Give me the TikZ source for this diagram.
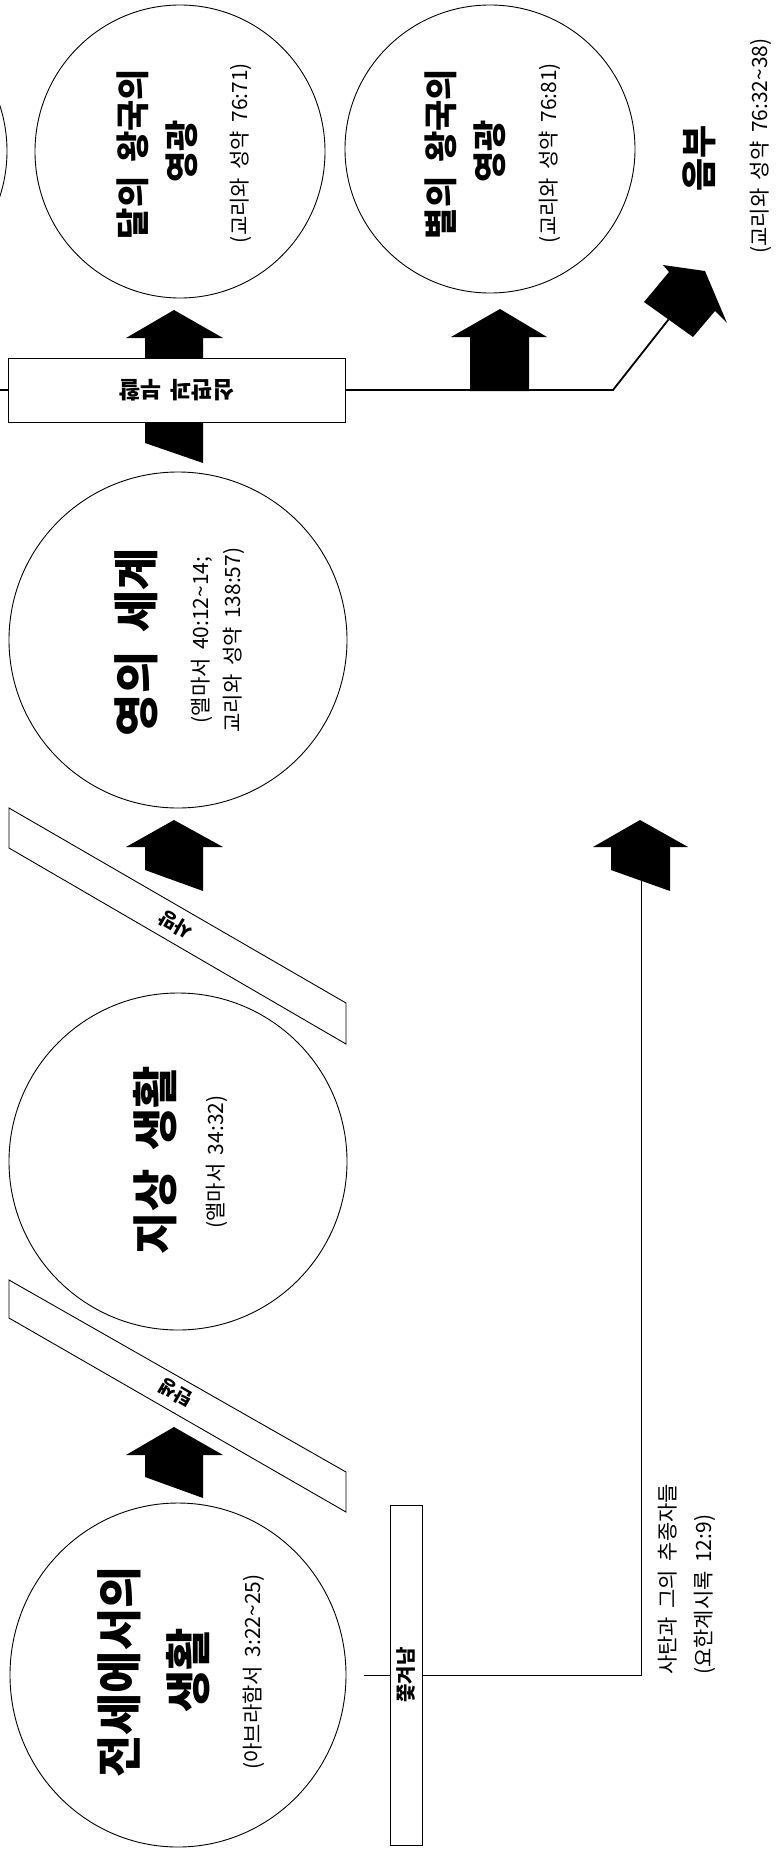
\documentclass[tikz,border=0pt]{standalone}
\usepackage{fontspec}
\setmainfont[WordSpace=1.8]{Noto Sans CJK KR}
\usetikzlibrary{shapes.geometric}
\begin{document}
\begin{tikzpicture}[x=1pt,y=-1pt,
  circ/.style={draw, ellipse, line width=0.9pt, fill=white, inner sep=0pt},
  bigtitle/.style={rotate=90, inner sep=0pt, font=\fontsize{46}{50}\selectfont\bfseries},
  ktitle/.style={rotate=90, inner sep=0pt, font=\fontsize{34}{38}\selectfont\bfseries},
  cite/.style={rotate=90, inner sep=0pt, font=\fontsize{21}{24}\selectfont},
  band/.style={draw, line width=0.9pt, fill=white},
  bandtext/.style={rotate=150, inner sep=0pt, font=\fontsize{19}{21}\selectfont\bfseries},
  boxst/.style={draw, fill=white, line width=1pt, inner sep=0pt},
  blockarrow/.style={fill=black, draw=none},
  judgeline/.style={line width=1.8pt},
  satanline/.style={line width=0.9pt}
]
\useasboundingbox (0,0) rectangle (776,1849);
\clip (0,0) rectangle (776,1849);

% ---- circles ----
\node[circ, minimum width=290pt, minimum height=292pt] (celest) at (-138,151) {};
\node[circ, minimum width=290pt, minimum height=293pt] (terr) at (180,151.5) {};
\node[circ, minimum width=290pt, minimum height=288pt] (tel) at (490,149) {};
\node[circ, minimum width=338pt, minimum height=336pt] (spirit) at (178,640) {};
\node[circ, minimum width=338pt, minimum height=337pt] (earth) at (178,1161.5) {};
\node[circ, minimum width=336pt, minimum height=344pt] (pre) at (178,1675) {};

% ---- bands ----
\draw[band] (9,808) -- (346,1003) -- (346,1044) -- (9,848) -- cycle;
\draw[band] (9,1280) -- (346,1472) -- (346,1512) -- (9,1318) -- cycle;
\node[bandtext] (death) at (176,925) {사망};
\node[bandtext] (birth) at (176,1393) {탄생};

% ---- connector lines ----
\coordinate (jleft) at (0,390);
\coordinate (bend) at (613,390);
\coordinate (hellTail) at (668.5,319.5);
\draw[judgeline] (jleft) -- (bend) -- (hellTail);

\coordinate (sstart) at (364,1675);
\coordinate (scorner) at (641,1675);
\coordinate (stop) at (641,880);
\draw[satanline] (sstart) -- (scorner) -- (stop);

% ---- block arrows ----
\fill[blockarrow] (174,1427) -- (223,1455) -- (203,1455) -- (203,1498) -- (145,1477) -- (145,1455) -- (126,1455) -- cycle;
\fill[blockarrow] (174,820) -- (223,847) -- (203,847) -- (203,891) -- (145,870) -- (145,847) -- (126,847) -- cycle;
\fill[blockarrow] (174,310) -- (223,338) -- (203,338) -- (203,463) -- (145,443) -- (145,338) -- (126,338) -- cycle;
\fill[blockarrow] (640,820) -- (688,847) -- (670,847) -- (670,891) -- (611,870) -- (611,847) -- (593,847) -- cycle;
\fill[blockarrow] (500,309) -- (547,337) -- (529,337) -- (529,391) -- (470,391) -- (470,337) -- (451,337) -- cycle;
\fill[blockarrow] (705,271) -- (727,323) -- (715,311) -- (693,337) -- (644,302) -- (669,272) -- (663,265) -- cycle;

% ---- boxes ----
\node[boxst, rotate=180, minimum width=337pt, minimum height=64pt,
      font=\fontsize{23}{25}\selectfont\bfseries] (judge) at (176.5,390) {심판과 부활};
\node[boxst, rotate=90, minimum width=340pt, minimum height=32pt,
      font=\fontsize{20}{22}\selectfont\bfseries] (cast) at (406,1675) {쫓겨남};

% ---- texts: pre-mortal ----
\node[bigtitle] (preT1) at (119,1672) {전세에서의};
\node[bigtitle] (preT2) at (188,1670) {생활};
\node[cite] (preC) at (254,1672) {(아브라함서 3:22\textasciitilde 25)};

% ---- earth life ----
\node[bigtitle] (earthT) at (155,1160) {지상 생활};
\node[cite] (earthC) at (217,1162) {(앨마서 34:32)};

% ---- spirit world ----
\node[bigtitle] (spiritT) at (136,642) {영의 세계};
\node[cite] (spiritC1) at (202,640) {(앨마서 40:12\textasciitilde 14;};
\node[cite] (spiritC2) at (234,640) {교리와 성약 138:57)};

% ---- terrestrial ----
\node[ktitle] (terrT1) at (133,154) {달의 왕국의};
\node[ktitle] (terrT2) at (182,151) {영광};
\node[cite] (terrC) at (241,153) {(교리와 성약 76:71)};

% ---- telestial ----
\node[ktitle] (telT1) at (441,154) {별의 왕국의};
\node[ktitle] (telT2) at (490,151) {영광};
\node[cite] (telC) at (550,153) {(교리와 성약 76:81)};

% ---- perdition ----
\node[rotate=90, inner sep=0pt, font=\fontsize{36}{40}\selectfont\bfseries] (hellT) at (699,158) {음부};
\node[cite] (hellC) at (761,146) {(교리와 성약 76:32\textasciitilde 38)};

% ---- satan ----
\node[cite, anchor=west] (satan1) at (668,1675) {사탄과 그의 추종자들};
\node[cite, anchor=west] (satan2) at (705,1675) {(요한계시록 12:9)};
\end{tikzpicture}
\end{document}
